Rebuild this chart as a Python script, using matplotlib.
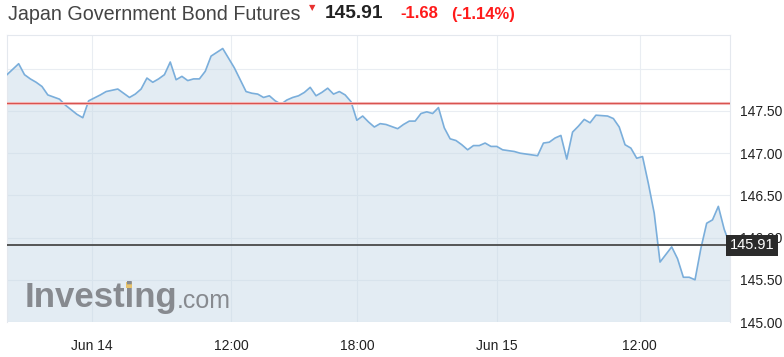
import numpy as np
import matplotlib.pyplot as plt
from matplotlib.patches import Rectangle

plt.rcParams['font.family'] = ['Liberation Sans', 'DejaVu Sans']

# price per bar (30 min bars, trading time only)
bars = [0, 2, 3, 4, 5, 6, 7, 9, 10, 12, 13, 14, 16, 17, 19, 20, 21, 22, 23,
        24, 25, 26, 27, 28, 29, 30, 31, 32, 33, 34, 35, 37, 39, 41, 42, 43,
        44, 45, 46, 47, 48, 49, 50, 51, 52, 53, 54, 55, 56, 57, 58, 59, 60,
        61, 62, 63, 64, 65, 67, 68, 69, 70, 71, 72, 73, 74, 75, 76, 77, 78,
        79, 80, 81, 82, 83, 84, 85, 87, 88, 91, 92, 93, 94, 95, 96, 97, 98,
        99, 100, 101, 103, 104, 105, 106, 107, 108, 109, 110, 111, 112, 114,
        115, 116, 117, 118, 119, 120, 121, 122, 123, 124]
prices = [147.93, 148.06, 147.93, 147.88, 147.84, 147.79, 147.69, 147.64,
          147.57, 147.46, 147.42, 147.62, 147.69, 147.73, 147.76, 147.71,
          147.66, 147.70, 147.76, 147.89, 147.84, 147.88, 147.93, 148.08,
          147.87, 147.91, 147.86, 147.88, 147.88, 147.97, 148.15, 148.24,
          148.01, 147.73, 147.71, 147.70, 147.66, 147.68, 147.62, 147.58,
          147.63, 147.66, 147.68, 147.72, 147.78, 147.68, 147.72, 147.77,
          147.70, 147.73, 147.69, 147.61, 147.39, 147.44, 147.37, 147.31,
          147.35, 147.34, 147.29, 147.34, 147.38, 147.38, 147.47, 147.49,
          147.47, 147.54, 147.30, 147.17, 147.15, 147.10, 147.04, 147.09,
          147.09, 147.12, 147.08, 147.08, 147.04, 147.02, 147.00, 146.97,
          147.12, 147.13, 147.18, 147.21, 146.93, 147.25, 147.32, 147.40,
          147.36, 147.45, 147.44, 147.41, 147.31, 147.10, 147.06, 146.94,
          146.96, 146.64, 146.29, 145.71, 145.89, 145.75, 145.53, 145.53,
          145.50, 145.87, 146.17, 146.21, 146.37, 146.10, 145.91]

tick_bars = [14.5, 38.5, 60, 84, 108.5]
tick_labels = ['Jun 14', '12:00', '18:00', 'Jun 15', '12:00']
y_ticks = [145.0, 145.5, 146.0, 146.5, 147.0, 147.5, 148.0]

prev_close = 147.59
last = 145.91
change = -1.68
change_pct = -1.14


def draw_chart():
    fig = plt.figure(figsize=(7.84, 3.57), dpi=100)
    ax = fig.add_axes([7 / 784, 35 / 357, 723 / 784, 287 / 357])

    ax.fill_between(bars, prices, 144, color='#c8dae8', alpha=0.5, lw=0, zorder=2)
    ax.plot(bars, prices, color='#7aaedb', lw=1.2, zorder=3)

    # previous close and last price
    ax.axhline(prev_close, color='#f5c4c4', lw=2.2, zorder=4)
    ax.axhline(prev_close, color='#d9534f', lw=0.9, zorder=4)
    ax.axhline(last, color='#555555', lw=1.4, zorder=4)

    ax.set_xlim(0, 124)
    ax.set_ylim(145.0, 148.4)

    ax.set_xticks(tick_bars)
    ax.set_xticklabels(tick_labels, fontsize=10, color='#222222')
    ax.set_yticks(y_ticks)
    ax.set_yticklabels(['%.2f' % v if v < 148 else '' for v in y_ticks],
                       fontsize=10, color='#222222')
    ax.yaxis.tick_right()
    ax.tick_params(axis='both', length=0)
    ax.tick_params(axis='x', pad=12)
    ax.tick_params(axis='y', pad=7)
    ax.grid(True, color='#e9edf2', lw=0.8, zorder=1)

    for side in ['top', 'left', 'right']:
        ax.spines[side].set_color('#e4e8ee')
    ax.spines['bottom'].set_visible(False)

    # last price box, sits over the 146.00 label like the original
    ax.text(1.0, (last - 145.0) / 3.4, '%.2f' % last, transform=ax.transAxes,
            ha='left', va='center', fontsize=10.5, color='white',
            bbox=dict(boxstyle='square,pad=0.25', fc='#2b2b2b', ec='none'),
            zorder=6, clip_on=False)

    # watermark
    fig.text(25 / 784, 1 - 297 / 357, 'Investing', fontsize=25, weight='bold',
             color='#878a8f', va='center', ha='left')
    fig.text(177 / 784, 1 - 301 / 357, '.com', fontsize=18, color='#878a8f',
             va='center', ha='left')
    fig.patches.append(Rectangle((126 / 784, 1 - 288 / 357), 6 / 784, 6 / 357,
                                 transform=fig.transFigure, fc='#e7c36c', ec='none'))

    # header
    fig.text(8 / 784, 1 - 14 / 357, 'Japan Government Bond Futures', fontsize=14.2,
             color='#444444', va='center', ha='left')
    fig.text(312 / 784, 1 - 8 / 357, '\u25bc', fontsize=6, color='#e8312f',
             family='DejaVu Sans', va='center', ha='center')
    fig.text(325 / 784, 1 - 14 / 357, '%.2f' % last, fontsize=13.8, weight='bold',
             color='#222222', va='center', ha='left')
    fig.text(400 / 784, 1 - 14 / 357, '%.2f' % change, fontsize=12, weight='bold',
             color='#ff1a1a', va='center', ha='left')
    fig.text(451 / 784, 1 - 14 / 357, '(%.2f%%)' % change_pct, fontsize=12,
             weight='bold', color='#ff1a1a', va='center', ha='left')

    fig.savefig('out.png', dpi=100, facecolor='white')


if __name__ == '__main__':
    draw_chart()
